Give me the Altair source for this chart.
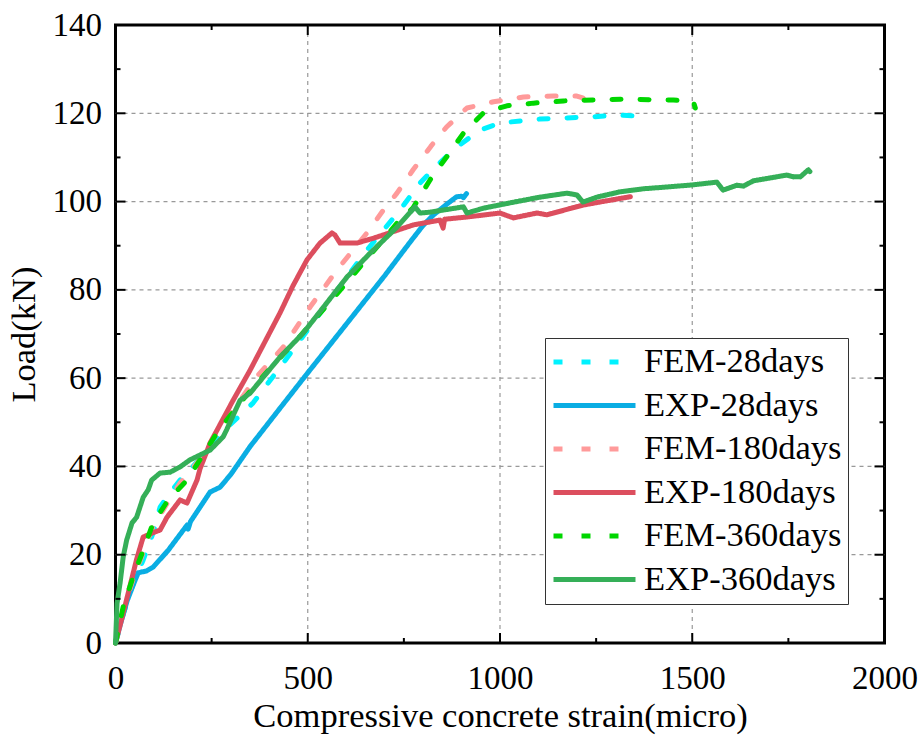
import altair as alt
import pandas as pd

series_names = ["FEM-28days", "EXP-28days", "FEM-180days", "EXP-180days", "FEM-360days", "EXP-360days"]
series_colors = ["#00F2FF", "#0AADE3", "#FF9A9A", "#DC4E5E", "#00D600", "#35AF58"]
series_dashes = [[9, 19], [1, 0], [9, 19], [1, 0], [9, 19], [1, 0]]

fem28_x = [0, 20, 46, 72, 98, 116, 137, 168, 212, 254, 300, 358, 436, 480, 560, 654, 740, 792, 840, 888, 948, 1000, 1104, 1242, 1304, 1351]
fem28_y = [0, 6.5, 13.5, 18.8, 25, 30.8, 33.5, 36.9, 41, 45.3, 49.6, 54.4, 63.4, 68.6, 78, 89, 98.1, 104.2, 108.5, 112.4, 116.2, 117.8, 118.7, 119.2, 119.6, 119.4]

exp28_x = [0, 12, 30, 50, 59, 80, 98, 137, 186, 189, 195, 246, 272, 300, 350, 428, 500, 600, 700, 766, 800, 826, 860, 887, 900, 905, 913]
exp28_y = [0, 4, 9.5, 14, 15.9, 16.3, 17.2, 21, 26.7, 25.8, 27.5, 34.2, 35.3, 38.2, 44.5, 53.2, 61.2, 72.2, 83.2, 90.8, 94.6, 96.9, 99.3, 101.1, 101.2, 100.9, 101.8]

fem180_x = [0, 20, 46, 72, 98, 137, 168, 212, 246, 300, 367, 436, 506, 576, 654, 697, 732, 774, 820, 861, 914, 983, 1061, 1140, 1200, 1215, 1229]
fem180_y = [0, 7.5, 14.5, 20.5, 26.5, 32, 36.2, 40.8, 45.3, 52, 60.3, 67, 76.1, 84.5, 92.9, 98.1, 101.9, 107.2, 112.5, 116.9, 121.2, 122.6, 123.7, 123.9, 123.9, 123.5, 122.3]

exp180_x = [0, 15, 35, 55, 72, 98, 116, 134, 168, 186, 212, 220, 246, 306, 350, 428, 462, 498, 532, 563, 571, 584, 628, 671, 774, 844, 852, 856, 914, 1000, 1035, 1096, 1122, 1216, 1260, 1339]
exp180_y = [0, 5, 12, 19, 24, 25, 25.6, 28.5, 32.4, 31.7, 36.9, 39.5, 45.3, 55, 61.8, 74.8, 81, 86.8, 90.6, 92.9, 92.4, 90.6, 90.6, 91.7, 94.7, 95.8, 94.0, 96.0, 96.5, 97.4, 96.3, 97.4, 97, 99.2, 99.9, 101.1]

fem360_x = [0, 20, 46, 72, 98, 137, 186, 264, 324, 400, 480, 545, 590, 636, 688, 732, 774, 818, 861, 905, 957, 1018, 1087, 1165, 1313, 1451, 1503, 1508]
fem360_y = [0, 8.2, 15, 21, 27.2, 32.4, 36.9, 47.6, 54.4, 62, 69.5, 76, 80.5, 85.2, 90.5, 95.1, 98.6, 104.9, 110.1, 115.5, 120.1, 121.7, 122.3, 122.8, 123.2, 123, 122.6, 121.2]

exp360_x = [0, 4, 12, 20, 29, 43, 55, 72, 85, 94, 116, 142, 168, 194, 246, 280, 289, 324, 350, 428, 488, 541, 602, 662, 732, 779, 792, 818, 905, 914, 957, 1026, 1104, 1174, 1200, 1216, 1252, 1312, 1373, 1434, 1503, 1564, 1580, 1616, 1633, 1659, 1746, 1763, 1781, 1802, 1806]
exp360_y = [0, 9, 13.6, 19.5, 23.3, 27.2, 28.5, 33, 34.7, 36.9, 38.5, 38.7, 39.9, 41.5, 43.7, 46.7, 48.3, 55, 56.6, 64.8, 70.2, 76.1, 82.9, 88.3, 94.2, 98.8, 97.4, 97.6, 98.8, 97.4, 98.5, 99.7, 101, 101.9, 101.5, 99.9, 101, 102.2, 102.9, 103.3, 103.8, 104.4, 102.6, 103.7, 103.5, 104.7, 106, 105.6, 105.6, 107.2, 106.8]

x_tick_labels = [0, 500, 1000, 1500, 2000]
y_tick_labels = [0, 20, 40, 60, 80, 100, 120, 140]
x_major = [500, 1000, 1500]
x_minor = [250, 750, 1250, 1750]
y_major = [20, 40, 60, 80, 100, 120]
y_minor = [10, 30, 50, 70, 90, 110, 130]

all_x = [fem28_x, exp28_x, fem180_x, exp180_x, fem360_x, exp360_x]
all_y = [fem28_y, exp28_y, fem180_y, exp180_y, fem360_y, exp360_y]

rows = []
for name, xs, ys in zip(series_names, all_x, all_y):
    for i, (xv, yv) in enumerate(zip(xs, ys)):
        rows.append({"series": name, "x": xv, "y": yv, "i": i})
df = pd.DataFrame(rows)

W, H = 769, 618
FONT = "Liberation Serif"
xscale = alt.Scale(domain=[0, 2000], nice=False, zero=False)
yscale = alt.Scale(domain=[0, 140], nice=False, zero=False)

x_axis = alt.Axis(
    values=x_tick_labels, format="d", title="Compressive concrete strain(micro)", grid=False, ticks=False,
    tickSize=0, domain=False, labelFlush=False, labelOverlap=False, labelPadding=19.5,
    labelFontSize=33, titleFontSize=34.5, titleFontWeight="normal", titleY=83,
    titleBaseline="alphabetic", labelFont=FONT, titleFont=FONT, labelColor="black", titleColor="black")
y_axis = alt.Axis(
    values=y_tick_labels, format="d", title="Load(kN)", grid=False, ticks=False, tickSize=0, domain=False,
    labelFlush=False, labelOverlap=False, labelPadding=14, labelFontSize=33, titleFontSize=34.5,
    titleFontWeight="normal", titleX=-81, titleY=H / 2, titleAngle=270, titleBaseline="alphabetic",
    labelFont=FONT, titleFont=FONT, labelColor="black", titleColor="black")

legend = alt.Legend(title=None, orient="none", legendX=429.5, legendY=313,
                    symbolType="stroke", symbolSize=6724, symbolStrokeWidth=5,
                    clipHeight=36, rowPadding=7.5, labelFont=FONT, labelFontSize=34.5,
                    labelColor="black", labelOffset=6, padding=6, labelLimit=400,
                    strokeColor="#333333", fillColor="white")

lines = alt.Chart(df).mark_line(strokeWidth=5, strokeCap="round", strokeJoin="round").encode(
    x=alt.X("x:Q", scale=xscale, axis=x_axis),
    y=alt.Y("y:Q", scale=yscale, axis=y_axis),
    color=alt.Color("series:N", scale=alt.Scale(domain=series_names, range=series_colors), legend=legend),
    strokeDash=alt.StrokeDash("series:N", scale=alt.Scale(domain=series_names, range=series_dashes), legend=legend),
    order=alt.Order("i:Q"),
)

grid_style = dict(color="#999999", strokeWidth=1.2, strokeDash=[4, 4])
gx = alt.Chart(pd.DataFrame({"x": x_major})).mark_rule(**grid_style).encode(
    x=alt.X("x:Q", scale=xscale, axis=x_axis), y=alt.value(0), y2=alt.value(H))
gy = alt.Chart(pd.DataFrame({"y": y_major})).mark_rule(**grid_style).encode(
    y=alt.Y("y:Q", scale=yscale, axis=y_axis), x=alt.value(0), x2=alt.value(W))

tick_style = dict(color="black", strokeWidth=2)
def xticks(vals, length):
    d = pd.DataFrame({"x": vals})
    b = alt.Chart(d).mark_rule(**tick_style).encode(
        x=alt.X("x:Q", scale=xscale, axis=x_axis), y=alt.value(H), y2=alt.value(H - length))
    t = alt.Chart(d).mark_rule(**tick_style).encode(
        x=alt.X("x:Q", scale=xscale, axis=x_axis), y=alt.value(0), y2=alt.value(length))
    return [b, t]
def yticks(vals, length):
    d = pd.DataFrame({"y": vals})
    l = alt.Chart(d).mark_rule(**tick_style).encode(
        y=alt.Y("y:Q", scale=yscale, axis=y_axis), x=alt.value(0), x2=alt.value(length))
    r = alt.Chart(d).mark_rule(**tick_style).encode(
        y=alt.Y("y:Q", scale=yscale, axis=y_axis), x=alt.value(W), x2=alt.value(W - length))
    return [l, r]

layers = [gx, gy, lines] + xticks(x_major, 10) + xticks(x_minor, 5) + yticks(y_major, 10) + yticks(y_minor, 5)

chart = alt.layer(*layers).properties(
    width=W, height=H,
    autosize=alt.AutoSizeParams(type="none"),
    padding={"left": 115.5, "top": 25, "right": 36.5, "bottom": 92},
    background="white",
).configure_view(stroke="black", strokeWidth=3)

chart.save("out.html", embed_options={"renderer": "svg", "actions": False})
